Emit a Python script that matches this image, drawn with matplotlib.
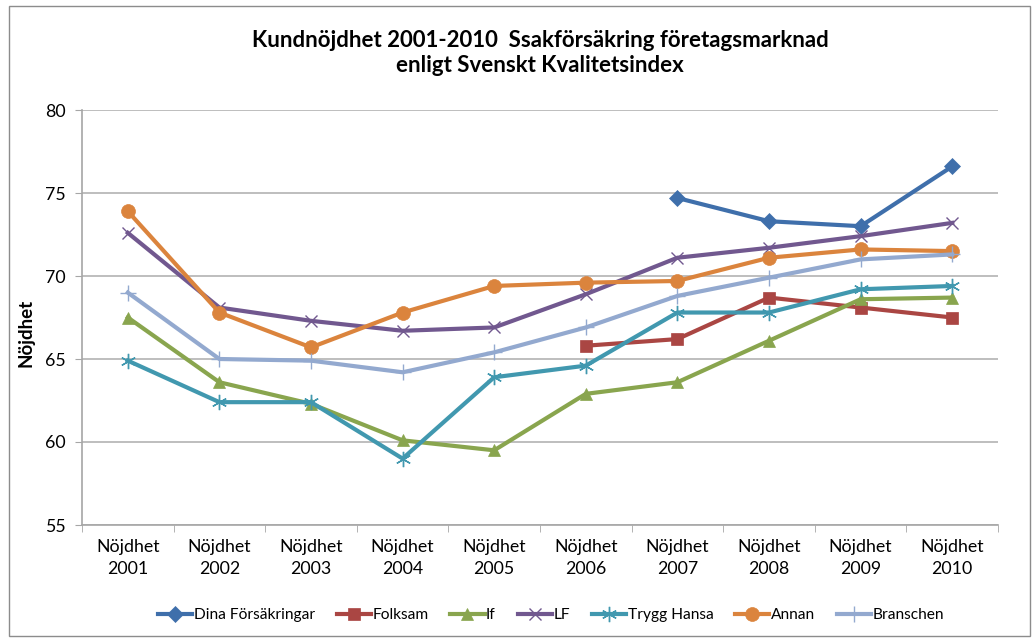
import numpy as np
import matplotlib.pyplot as plt
from matplotlib.patches import Rectangle

plt.rcParams['font.family'] = ['Lato', 'DejaVu Sans']

# Data
years = ['Nöjdhet\n2001', 'Nöjdhet\n2002', 'Nöjdhet\n2003', 'Nöjdhet\n2004', 'Nöjdhet\n2005',
         'Nöjdhet\n2006', 'Nöjdhet\n2007', 'Nöjdhet\n2008', 'Nöjdhet\n2009', 'Nöjdhet\n2010']
nan = np.nan
dina = [nan, nan, nan, nan, nan, nan, 74.7, 73.3, 73.0, 76.6]
folksam = [nan, nan, nan, nan, nan, 65.8, 66.2, 68.7, 68.1, 67.5]
if_ = [67.5, 63.6, 62.3, 60.1, 59.5, 62.9, 63.6, 66.1, 68.6, 68.7]
lf = [72.6, 68.1, 67.3, 66.7, 66.9, 68.9, 71.1, 71.7, 72.4, 73.2]
trygg = [64.9, 62.4, 62.4, 59.0, 63.9, 64.6, 67.8, 67.8, 69.2, 69.4]
annan = [73.9, 67.8, 65.7, 67.8, 69.4, 69.6, 69.7, 71.1, 71.6, 71.5]
branschen = [69.0, 65.0, 64.9, 64.2, 65.4, 66.9, 68.8, 69.9, 71.0, 71.3]

series = [
    ('Dina Försäkringar', dina, '#3F6FAB', 'D', 8),
    ('Folksam', folksam, '#AA4643', 's', 9),
    ('If', if_, '#89A54E', '^', 9),
    ('LF', lf, '#71588F', 'x', 9),
    ('Trygg Hansa', trygg, '#4198AF', (6, 2, 0), 11),
    ('Annan', annan, '#DB843D', 'o', 10),
    ('Branschen', branschen, '#93A9CF', '+', 11),
]

fig = plt.figure(figsize=(10.34, 6.39), dpi=100)
ax = fig.add_axes([82/1034, 1-525/639, (998-82)/1034, (525-110)/639])

x = np.arange(len(years))
for name, vals, col, mk, ms in series:
    thin = mk in ('x', '+') or isinstance(mk, tuple)
    ax.plot(x, vals, color=col, linewidth=3.0, marker=mk, markersize=ms,
            markeredgewidth=1.0 if thin else 0.5, markeredgecolor=col,
            label=name, zorder=3)

ax.set_xlim(-0.5, len(years) - 0.5)
ax.set_ylim(55, 80)
ax.set_yticks(np.arange(55, 81, 5))
ax.set_xticks(x)
ax.set_xticklabels(years, fontsize=12.8, linespacing=1.45)
ax.set_xticks(np.arange(-0.5, len(years), 1), minor=True)
ax.tick_params(axis='x', which='major', length=0, pad=10)
ax.tick_params(axis='x', which='minor', length=5, color='#a6a6a6', direction='out')
ax.tick_params(axis='y', length=5, color='#a6a6a6', labelsize=12.8, pad=7)
ax.grid(axis='y', color='#b3b3b3', linewidth=1.2)
ax.set_axisbelow(True)
for s in ['top', 'right']:
    ax.spines[s].set_visible(False)
for s in ['left', 'bottom']:
    ax.spines[s].set_color('#a6a6a6')
    ax.spines[s].set_linewidth(1.2)

fig.text(26/1034, 1-333/639, 'Nöjdhet', rotation=90, ha='center', va='center',
         fontsize=13.5, fontweight='bold')

fig.text(540/1034, 1-53/639, 'Kundnöjdhet 2001-2010  Ssakförsäkring företagsmarknad\nenligt Svenskt Kvalitetsindex',
         ha='center', va='center', fontsize=16, fontweight='bold', linespacing=1.2)

fig.legend(loc='center', bbox_to_anchor=(551/1034, 1-615/639), ncol=7, frameon=False,
           fontsize=11.2, handlelength=2.2, handletextpad=0.1, columnspacing=1.4)

fig.patches.append(Rectangle((9/1034, 1-636/639), 1021/1034, 630/639, transform=fig.transFigure,
                             fill=False, edgecolor='#8c8c8c', linewidth=1))

fig.savefig('out.png', dpi=100)
